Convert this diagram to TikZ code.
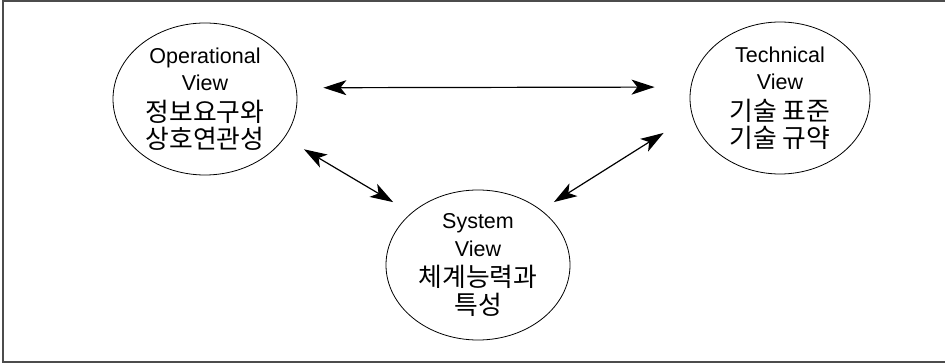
\documentclass[tikz,border=0pt]{standalone}
\usepackage{fontspec}
\setmainfont{Liberation Sans}
\newfontfamily\kr[Scale=1.2]{Noto Sans CJK KR}
\usetikzlibrary{arrows.meta, shapes.geometric}

\begin{document}
\begin{tikzpicture}[x=1pt, y=-1pt,
  view/.style={draw, ellipse, line width=0.8pt, minimum width=184pt, minimum height=152pt,
    inner sep=0pt, align=center, font=\fontsize{21.5}{27.5}\selectfont},
  link/.style={line width=1.2pt,
    {Stealth[length=23pt,width=15pt,inset=6pt]}-{Stealth[length=23pt,width=15pt,inset=6pt]}}]
  \useasboundingbox (0,0) rectangle (945,363);

  % Frame
  \draw[gray!60!black, line width=2pt] (945,1.5) -- (3,1.5) -- (3,361.5) -- (945,361.5);

  % Views
  \node[view] (op) at (205,99) {Operational\\View\\[3pt]{\kr 정보요구와}\\{\kr 상호연관성}};
  \node[view, minimum width=180pt] (tech) at (780,98) {Technical\\View\\[3pt]{\kr 기술 표준}\\{\kr 기술 규약}};
  \node[view, minimum height=150pt] (sys) at (478,265) {System\\View\\[3pt]{\kr 체계능력과}\\{\kr 특성}};

  % Links
  \draw[link, shorten <=27pt, shorten >=36pt] (op.7.5) -- (tech.173);
  \draw[link, shorten <=22.5pt, shorten >=21pt] (op.-26.7) -- (sys.142.5);
  \draw[link, shorten <=33.5pt, shorten >=15pt] (tech.191.2) -- (sys.41.5);
\end{tikzpicture}
\end{document}
